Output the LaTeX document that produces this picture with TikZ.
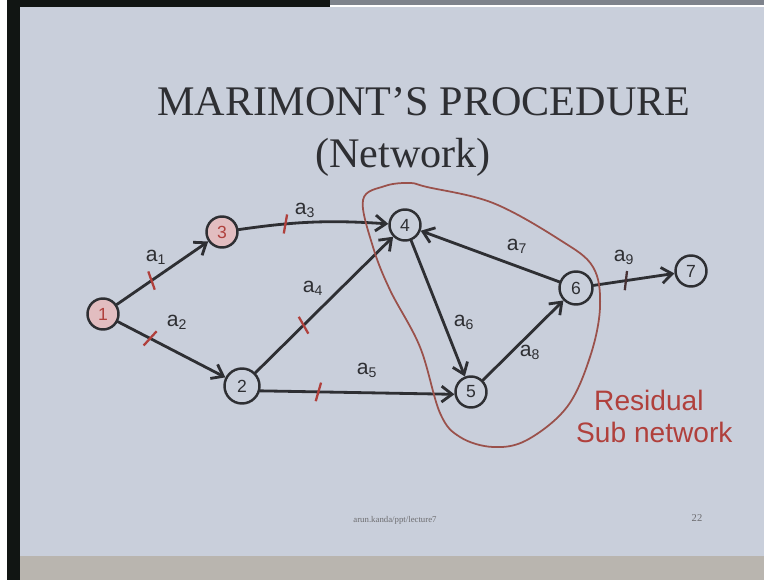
\documentclass[tikz,border=0pt]{standalone}
\usepackage{fontspec}
\setmainfont{Liberation Serif}
\newfontfamily\handfont{Liberation Sans}
\usetikzlibrary{arrows.meta}
\definecolor{slide}{HTML}{C9CFDB}
\definecolor{ink}{HTML}{2E2F33}
\definecolor{marker}{HTML}{B0403C}
\definecolor{blob}{HTML}{9A514B}
\definecolor{frame}{HTML}{111513}
\definecolor{hatch}{HTML}{E2BDC0}
\definecolor{foot}{HTML}{7E838C}
\definecolor{desk}{HTML}{B9B5AF}
\tikzset{
  event/.style={circle, draw=ink, line width=1.4pt, minimum size=0.62cm, inner sep=0pt,
    font=\handfont\fontsize{10}{10}\selectfont, text=ink},
  start/.style={event, fill=hatch, text=marker},
  act/.style={draw=ink, line width=1.6pt, -{Straight Barb[length=6pt,width=9pt]}},
  lab/.style={font=\handfont\fontsize{12}{12}\selectfont, text=ink, inner sep=1pt},
  tick/.style={sloped, fill=marker, minimum width=1.3pt, minimum height=11pt, inner sep=0pt, rotate=-15},
  heading/.style={font=\fontsize{24}{28}\selectfont, text=ink},
  note/.style={font=\handfont\fontsize{16}{19}\selectfont, text=marker, align=left},
}
\newcommand{\actlab}[1]{a\textsubscript{#1}}

\begin{document}
\begin{tikzpicture}[x=0.02cm, y=-0.02cm, line cap=round, line join=round]
\path[use as bounding box] (0,0) rectangle (764,580);
% photo frame
\fill[white] (0,0) rectangle (764,580);
\fill[slide] (20,7) rectangle (764,556);
\fill[frame] (7,0) rectangle (20,580);
\fill[frame] (7,0) rectangle (330,7);
\fill[foot] (330,0) rectangle (764,5);
\fill[desk] (20,556) rectangle (764,580);

\node[heading] (title) at (424,102) {MARIMONT'S PROCEDURE};
\node[heading] (subtitle) at (403,157) {(Network)};

\node[start] (e1) at (103,314) {1};
\node[start] (e3) at (222,232) {3};
\node[event] (e4) at (405,225) {4};
\node[event, minimum size=0.7cm] (e2) at (242,386) {2};
\node[event] (e5) at (471,392) {5};
\node[event, minimum size=0.66cm] (e6) at (576,288) {6};
\node[event] (e7) at (691,271) {7};

\draw[act] (e1) -- node[tick,pos=.38]{} (e3);
\draw[act] (e1) -- node[tick,pos=.3]{} (e2);
\draw[act] (e3) to[bend left=6] node[tick,pos=.3]{} (e4);
\draw[act] (e2) -- node[tick,pos=.35]{} (e4);
\draw[act] (e2.-15) -- node[tick,pos=.3]{} (e5.188);
\draw[act] (e4) -- (e5);
\draw[act] (e6) -- (e4);
\draw[act] (e5) -- (e6);
\draw[act] (e6) -- node[tick,pos=.4,fill=ink!80!marker]{} (e7);

\node[lab] (l1) at (156,257) {\actlab{1}};
\node[lab] (l2) at (177,322) {\actlab{2}};
\node[lab] (l3) at (305,210) {\actlab{3}};
\node[lab] (l4) at (313,288) {\actlab{4}};
\node[lab] (l5) at (367,370) {\actlab{5}};
\node[lab] (l6) at (464,322) {\actlab{6}};
\node[lab] (l7) at (517,246) {\actlab{7}};
\node[lab] (l8) at (530,352) {\actlab{8}};
\node[lab] (l9) at (624,257) {\actlab{9}};

% residual sub network
\draw[blob, line width=1pt] plot[smooth cycle, tension=0.6] coordinates {
  (363,200) (385,186) (410,183) (427,187) (493,203) (560,240) (593,267)
  (600,307) (590,357) (567,407) (527,440) (493,447) (460,437) (440,413)
  (420,347) (390,290) (373,247)};
\node[note, anchor=west] (resid) at (588,400) {Residual};
\node[note, anchor=west] (subnet) at (570,432) {Sub network};

\node[font=\fontsize{5}{6}\selectfont, text=ink!70] (footer) at (395,520) {arun.kanda/ppt/lecture7};
\node[font=\fontsize{6}{7}\selectfont, text=ink!70] (page) at (697,518) {22};
\end{tikzpicture}
\end{document}
